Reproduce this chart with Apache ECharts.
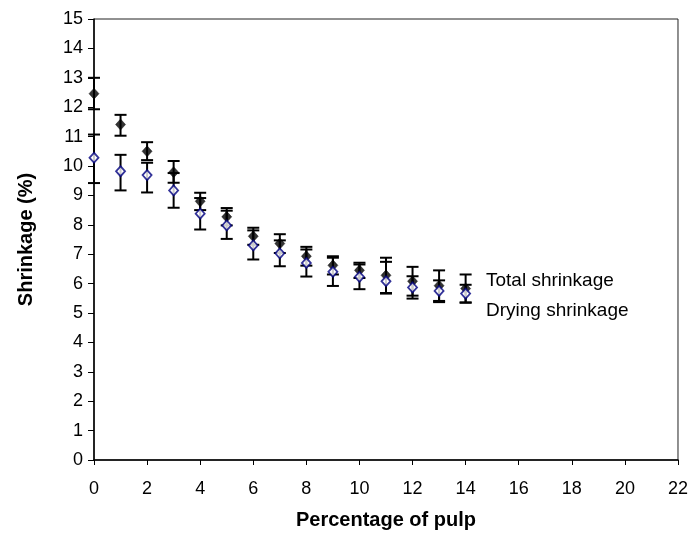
<!DOCTYPE html>
<html>
<head>
<meta charset="utf-8">
<script src="https://cdn.jsdelivr.net/npm/echarts@6/dist/echarts.min.js"></script>
<style>
  html, body { margin: 0; padding: 0; background: #fff; }
  #chart { width: 691px; height: 536px; }
</style>
</head>
<body>
<div id="chart"></div>
<script>
// Pulp content (%) on the x axis
const pulp = [0, 1, 2, 3, 4, 5, 6, 7, 8, 9, 10, 11, 12, 13, 14];

// Total shrinkage: mean and error-bar bounds (%)
const totalMean = [12.46, 11.41, 10.50, 9.79, 8.80, 8.27, 7.61, 7.36, 6.93, 6.62, 6.45, 6.28, 6.08, 5.93, 5.83];
const totalLow  = [11.93, 11.03, 10.20, 9.43, 8.50, 7.98, 7.32, 7.04, 6.61, 6.31, 6.19, 5.68, 5.59, 5.41, 5.35];
const totalHigh = [13.00, 11.74, 10.81, 10.17, 9.09, 8.57, 7.90, 7.68, 7.25, 6.93, 6.71, 6.88, 6.57, 6.45, 6.31];

// Drying shrinkage: mean and error-bar bounds (%)
const dryMean = [10.28, 9.82, 9.69, 9.17, 8.38, 7.98, 7.30, 7.03, 6.70, 6.40, 6.23, 6.08, 5.87, 5.75, 5.66];
const dryLow  = [9.42, 9.17, 9.10, 8.58, 7.84, 7.52, 6.82, 6.59, 6.24, 5.92, 5.81, 5.66, 5.49, 5.37, 5.36];
const dryHigh = [11.07, 10.38, 10.11, 9.76, 8.91, 8.48, 7.81, 7.47, 7.16, 6.88, 6.65, 6.74, 6.25, 6.11, 5.96];

// Axis ranges
const xMin = 0, xMax = 22, xStep = 2;
const yMin = 0, yMax = 15, yStep = 1;

const FONT = '"Liberation Sans", Arial, sans-serif';

function errorData(low, high) {
  return pulp.map((x, i) => [x, low[i], high[i]]);
}

// Vertical whisker with caps, positioned through the axis scales
function renderErrorBar(params, api) {
  const x = api.value(0);
  const lo = api.coord([x, api.value(1)]);
  const hi = api.coord([x, api.value(2)]);
  const half = 6;
  const style = { stroke: '#000', lineWidth: 2 };
  return {
    type: 'group',
    children: [
      { type: 'line', shape: { x1: lo[0], y1: lo[1], x2: hi[0], y2: hi[1] }, style },
      { type: 'line', shape: { x1: hi[0] - half, y1: hi[1], x2: hi[0] + half, y2: hi[1] }, style },
      { type: 'line', shape: { x1: lo[0] - half, y1: lo[1], x2: lo[0] + half, y2: lo[1] }, style }
    ]
  };
}

const chart = echarts.init(document.getElementById('chart'), null, { renderer: 'canvas' });

chart.setOption({
  animation: false,
  backgroundColor: '#fff',
  grid: {
    left: 94, right: 11, top: 19, bottom: 76,
    show: true, borderColor: '#222', borderWidth: 1
  },
  xAxis: {
    type: 'value',
    min: xMin, max: xMax, interval: xStep,
    name: 'Percentage of pulp',
    nameLocation: 'middle',
    nameGap: 50,
    nameTextStyle: { fontFamily: FONT, fontWeight: 'bold', fontSize: 20, color: '#000' },
    axisLine: { show: true, onZero: false, lineStyle: { color: '#000', width: 1.5 } },
    axisTick: { show: true, inside: false, length: 5, lineStyle: { color: '#000', width: 1 } },
    axisLabel: { fontFamily: FONT, fontSize: 18, color: '#000', margin: 20 },
    splitLine: { show: false }
  },
  yAxis: {
    type: 'value',
    min: yMin, max: yMax, interval: yStep,
    name: 'Shrinkage (%)',
    nameLocation: 'middle',
    nameRotate: 90,
    nameGap: 58,
    nameTextStyle: { fontFamily: FONT, fontWeight: 'bold', fontSize: 20, color: '#000' },
    axisLine: { show: true, onZero: false, lineStyle: { color: '#000', width: 1.5 } },
    axisTick: { show: true, inside: false, length: 6, lineStyle: { color: '#000', width: 1 } },
    axisLabel: { fontFamily: FONT, fontSize: 18, color: '#000', margin: 11 },
    splitLine: { show: false }
  },
  graphic: [
    { type: 'text', left: 486, top: 271,
      style: { text: 'Total shrinkage', fontFamily: FONT, fontSize: 19, fill: '#000' } },
    { type: 'text', left: 486, top: 301,
      style: { text: 'Drying shrinkage', fontFamily: FONT, fontSize: 19, fill: '#000' } }
  ],
  series: [
    {
      name: 'Total shrinkage error',
      type: 'custom',
      renderItem: renderErrorBar,
      encode: { x: 0, y: [1, 2] },
      data: errorData(totalLow, totalHigh),
      z: 2
    },
    {
      name: 'Drying shrinkage error',
      type: 'custom',
      renderItem: renderErrorBar,
      encode: { x: 0, y: [1, 2] },
      data: errorData(dryLow, dryHigh),
      z: 2
    },
    {
      name: 'Total shrinkage',
      type: 'scatter',
      symbol: 'diamond',
      symbolSize: [10, 11],
      itemStyle: { color: '#000', borderColor: '#000', borderWidth: 0.5 },
      data: pulp.map((x, i) => [x, totalMean[i]]),
      z: 4
    },
    {
      name: 'Drying shrinkage',
      type: 'scatter',
      symbol: 'diamond',
      symbolSize: [9, 10],
      itemStyle: { color: '#fff', borderColor: '#000080', borderWidth: 1.8 },
      data: pulp.map((x, i) => [x, dryMean[i]]),
      z: 4
    }
  ]
});
</script>
</body>
</html>
